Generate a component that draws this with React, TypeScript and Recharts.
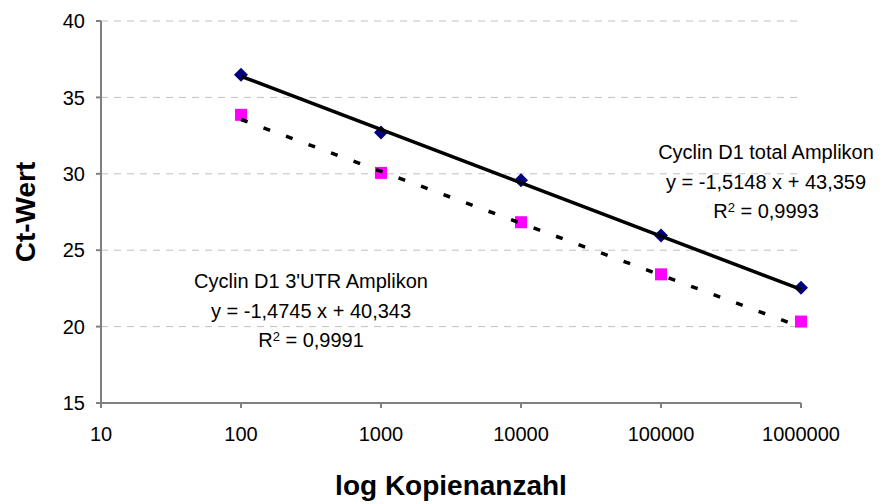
import React from 'react';
import {
  ComposedChart,
  Scatter,
  XAxis,
  YAxis,
  CartesianGrid,
} from 'recharts';

// copy numbers (x) and measured Ct values
const copies = [100, 1000, 10000, 100000, 1000000];
const ctTotal = [36.48, 32.71, 29.58, 25.97, 22.55];
const ctUtr = [33.86, 30.06, 26.83, 23.42, 20.33];

// logarithmic trendline end points (y = a*ln(x) + b at x = 100 and 1e6)
const trendTotal = [
  { x: 100, y: 36.383 },
  { x: 1000000, y: 22.431 },
];
const trendUtr = [
  { x: 100, y: 33.553 },
  { x: 1000000, y: 19.972 },
];

const xTicks = [10, 100, 1000, 10000, 100000, 1000000];
const yTicks = [15, 20, 25, 30, 35, 40];

const totalLabel = ['Cyclin D1 total Amplikon', 'y = -1,5148 x + 43,359', '0,9993'];
const utrLabel = ["Cyclin D1 3'UTR Amplikon", 'y = -1,4745 x + 40,343', '0,9991'];

const totalPoints = copies.map((x, i) => ({ x, y: ctTotal[i] }));
const utrPoints = copies.map((x, i) => ({ x, y: ctUtr[i] }));

const FONT = '"Liberation Sans", Arial, sans-serif';

const Diamond = (props: any) => {
  const { cx, cy } = props;
  const r = 7;
  return (
    <polygon
      points={`${cx},${cy - r} ${cx + r},${cy} ${cx},${cy + r} ${cx - r},${cy}`}
      fill="#000080"
    />
  );
};

const Square = (props: any) => {
  const { cx, cy } = props;
  const s = 12;
  return <rect x={cx - s / 2} y={cy - s / 2} width={s} height={s} fill="#FF00FF" />;
};

const NoDot = () => <g />;

const Annotation = ({ lines, cx, top }: { lines: string[]; cx: number; top: number }) => (
  <div
    style={{
      position: 'absolute',
      left: cx - 150,
      top,
      width: 300,
      textAlign: 'center',
      fontFamily: FONT,
      fontSize: 20,
      lineHeight: '29.5px',
      color: '#000',
      whiteSpace: 'nowrap',
    }}
  >
    <div>{lines[0]}</div>
    <div>{lines[1]}</div>
    <div>
      R<sup style={{ fontSize: 13, verticalAlign: 'top', lineHeight: '22px' }}>2</sup> = {lines[2]}
    </div>
  </div>
);

export default function App() {
  return (
    <div style={{ position: 'absolute', left: 0, top: 0, width: 882, height: 504, background: '#fff' }}>
      <ComposedChart
        width={882}
        height={504}
        margin={{ top: 21, right: 81, bottom: 0, left: 0 }}
        style={{ fontFamily: FONT }}
      >
        <CartesianGrid vertical={false} stroke="#c0c0c0" strokeDasharray="7 6" />
        <XAxis
          type="number"
          dataKey="x"
          scale="log"
          domain={[10, 1000000]}
          ticks={xTicks}
          height={101}
          stroke="#808080"
          strokeWidth={2}
          tickSize={5}
          tickMargin={19}
          tick={{ fill: '#000', fontSize: 20 }}
          label={{
            value: 'log Kopienanzahl',
            position: 'insideBottom',
            offset: 9,
            style: { fontSize: 28, fontWeight: 'bold', fill: '#000' },
          }}
        />
        <YAxis
          type="number"
          dataKey="y"
          domain={[15, 40]}
          ticks={yTicks}
          width={101}
          stroke="#808080"
          strokeWidth={2}
          tickSize={5}
          tickMargin={11}
          tick={{ fill: '#000', fontSize: 20 }}
          label={{
            value: 'Ct-Wert',
            angle: -90,
            position: 'insideLeft',
            offset: 25,
            style: { fontSize: 28, fontWeight: 'bold', fill: '#000', textAnchor: 'middle' },
          }}
        />
        <Scatter data={totalPoints} shape={<Diamond />} isAnimationActive={false} />
        <Scatter data={utrPoints} shape={<Square />} isAnimationActive={false} />
        <Scatter
          data={trendTotal}
          shape={<NoDot />}
          line={{ stroke: '#000', strokeWidth: 3.5 }}
          isAnimationActive={false}
        />
        <Scatter
          data={trendUtr}
          shape={<NoDot />}
          line={{ stroke: '#000', strokeWidth: 3.5, strokeDasharray: '7 17' }}
          isAnimationActive={false}
        />
      </ComposedChart>
      <Annotation lines={totalLabel} cx={766} top={138} />
      <Annotation lines={utrLabel} cx={311} top={267} />
    </div>
  );
}
